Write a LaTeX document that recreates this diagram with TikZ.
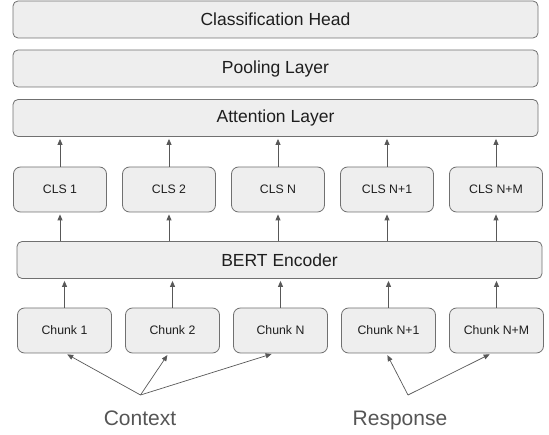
\documentclass[tikz,border=0pt]{standalone}
\usepackage{fontspec}
\setmainfont{Liberation Sans}
\usepackage{tikz}
\usetikzlibrary{positioning,arrows.meta,calc}
\definecolor{blkFill}{RGB}{238,238,238}
\definecolor{blkLine}{RGB}{112,112,112}
\definecolor{arrGray}{RGB}{88,88,88}
\definecolor{lblGray}{RGB}{85,85,85}
\definecolor{txtDark}{RGB}{30,30,30}

\begin{document}
\begin{tikzpicture}[
    x=1pt, y=-1pt,
    layer/.style={rectangle, rounded corners=5pt, draw=blkLine, line width=0.8pt, fill=blkFill, inner sep=0pt, minimum width=525pt, minimum height=37pt, text=txtDark, font=\fontsize{17.5}{20}\selectfont},
    token/.style={rectangle, rounded corners=7pt, draw=blkLine, line width=0.8pt, fill=blkFill, inner sep=0pt, minimum width=93pt, minimum height=45pt, text=txtDark, font=\fontsize{12.3}{14}\selectfont},
    group note/.style={text=lblGray, font=\fontsize{21}{24}\selectfont, anchor=base, inner sep=0pt},
    up/.style={->, >={Triangle[length=6pt, width=5pt]}, draw=arrGray, line width=0.8pt, shorten >=2pt}
]
  \useasboundingbox (0,0) rectangle (549,435);

  % top stack
  \node[layer] (head) at (275.5,19.5) {Classification Head};
  \node[layer] (pool) at (275.5,68.5) {Pooling Layer};
  \node[layer] (attn) at (275.5,118) {Attention Layer};

  % CLS outputs
  \node[token] (cls1) at (60,189.5) {CLS 1};
  \node[token] (cls2) at (169,189.5) {CLS 2};
  \node[token] (clsN) at (278,189.5) {CLS N};
  \node[token] (clsN1) at (387,189.5) {CLS N+1};
  \node[token] (clsNM) at (496,189.5) {CLS N+M};

  \node[layer] (bert) at (279.5,260) {BERT Encoder};

  % input chunks
  \node[token, minimum width=94pt] (ch1) at (64.5,330.5) {Chunk 1};
  \node[token, minimum width=94pt] (ch2) at (172.5,330.5) {Chunk 2};
  \node[token, minimum width=94pt] (chN) at (280.5,330.5) {Chunk N};
  \node[token, minimum width=94pt] (chN1) at (388.5,330.5) {Chunk N+1};
  \node[token, minimum width=94pt] (chNM) at (496.5,330.5) {Chunk N+M};

  \draw[up] (cls1.north) -- (attn.south -| cls1);
  \draw[up] (cls2.north) -- (attn.south -| cls2);
  \draw[up] (clsN.north) -- (attn.south -| clsN);
  \draw[up] (clsN1.north) -- (attn.south -| clsN1);
  \draw[up] (clsNM.north) -- (attn.south -| clsNM);

  \draw[up] (bert.north -| cls1) -- (cls1.south);
  \draw[up] (bert.north -| cls2) -- (cls2.south);
  \draw[up] (bert.north -| clsN) -- (clsN.south);
  \draw[up] (bert.north -| clsN1) -- (clsN1.south);
  \draw[up] (bert.north -| clsNM) -- (clsNM.south);

  \draw[up] (ch1.north) -- (bert.south -| ch1);
  \draw[up] (ch2.north) -- (bert.south -| ch2);
  \draw[up] (chN.north) -- (bert.south -| chN);
  \draw[up] (chN1.north) -- (bert.south -| chN1);
  \draw[up] (chNM.north) -- (bert.south -| chNM);

  % where the inputs come from
  \coordinate (ctx) at (140.5,395);
  \coordinate (rsp) at (408,395);
  \node[group note] (context) at (140,426) {Context};
  \node[group note] (response) at (400,426) {Response};

  \draw[up, line width=0.7pt] (ctx) -- ([xshift=1pt]ch1.south);
  \draw[up, line width=0.7pt] (ctx) -- ([xshift=-4pt]ch2.south);
  \draw[up, line width=0.7pt] (ctx) -- ([xshift=-7pt]chN.south);
  \draw[up, line width=0.7pt] (rsp) -- ([xshift=-2pt]chN1.south);
  \draw[up, line width=0.7pt] (rsp) -- ([xshift=-5pt]chNM.south);
\end{tikzpicture}
\end{document}
